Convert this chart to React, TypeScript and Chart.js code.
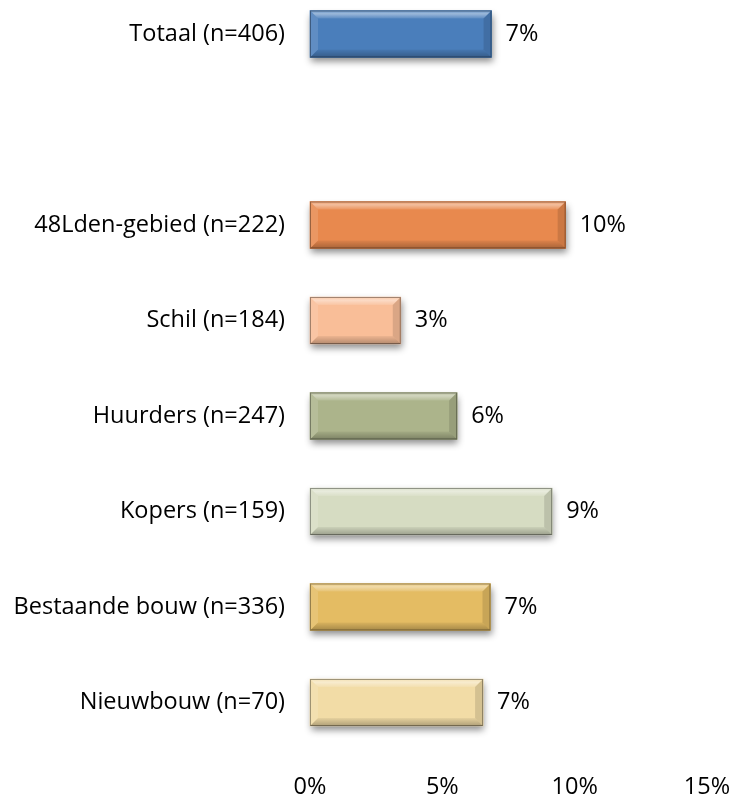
import React, { useEffect, useRef } from "react";
import { Chart, registerables } from "chart.js";

Chart.register(...registerables);

const categories = [
  "Totaal (n=406)",
  "",
  "48Lden-gebied (n=222)",
  "Schil (n=184)",
  "Huurders (n=247)",
  "Kopers (n=159)",
  "Bestaande bouw (n=336)",
  "Nieuwbouw (n=70)",
];
const values: (number | null)[] = [6.86, null, 9.66, 3.43, 5.56, 9.15, 6.82, 6.54];
const barColors = [
  "#4A7EBB",
  "#FFFFFF",
  "#E8894E",
  "#F9BE98",
  "#ACB48B",
  "#D6DCC2",
  "#E4BC63",
  "#F2DCA6",
];
const xTicks = [0, 5, 10, 15];

const FONT = "'Open Sans', sans-serif";
const FSIZE = 23.5;

const bevelPlugin = {
  id: "bevel",
  beforeDatasetsDraw(chart: any) {
    const ctx = chart.ctx;
    const meta = chart.getDatasetMeta(0);
    ctx.save();
    meta.data.forEach((el: any, i: number) => {
      if (values[i] == null) return;
      const p = el.getProps(["x", "y", "base", "height"], true);
      const l = Math.min(p.base, p.x);
      const r = Math.max(p.base, p.x);
      const t = p.y - p.height / 2;
      ctx.shadowColor = "rgba(0,0,0,0.45)";
      ctx.shadowBlur = 7;
      ctx.shadowOffsetX = 1;
      ctx.shadowOffsetY = 4;
      ctx.fillStyle = barColors[i];
      ctx.fillRect(l, t, r - l, p.height);
    });
    ctx.restore();
  },
  afterDatasetsDraw(chart: any) {
    const ctx = chart.ctx;
    const meta = chart.getDatasetMeta(0);
    ctx.save();
    meta.data.forEach((el: any, i: number) => {
      if (values[i] == null) return;
      const p = el.getProps(["x", "y", "base", "height"], true);
      const l = Math.min(p.base, p.x);
      const r = Math.max(p.base, p.x);
      const t = p.y - p.height / 2;
      const b = p.y + p.height / 2;
      const bv = 8;
      const poly = (pts: number[][], fill: any) => {
        ctx.beginPath();
        ctx.moveTo(pts[0][0], pts[0][1]);
        for (let k = 1; k < pts.length; k++) ctx.lineTo(pts[k][0], pts[k][1]);
        ctx.closePath();
        ctx.fillStyle = fill;
        ctx.fill();
      };
      const gTop = ctx.createLinearGradient(0, t, 0, t + bv);
      gTop.addColorStop(0, "rgba(255,255,255,0.15)");
      gTop.addColorStop(0.4, "rgba(255,255,255,0.45)");
      gTop.addColorStop(1, "rgba(255,255,255,0.1)");
      poly([[l, t], [r, t], [r - bv, t + bv], [l + bv, t + bv]], gTop);
      const gBot = ctx.createLinearGradient(0, b - bv, 0, b);
      gBot.addColorStop(0, "rgba(0,0,0,0.05)");
      gBot.addColorStop(1, "rgba(0,0,0,0.28)");
      poly([[l, b], [r, b], [r - bv, b - bv], [l + bv, b - bv]], gBot);
      poly([[l, t], [l + bv, t + bv], [l + bv, b - bv], [l, b]], "rgba(255,255,255,0.12)");
      poly([[r, t], [r - bv, t + bv], [r - bv, b - bv], [r, b]], "rgba(0,0,0,0.12)");
      ctx.strokeStyle = "rgba(0,0,0,0.35)";
      ctx.lineWidth = 1;
      ctx.strokeRect(l + 0.5, t + 0.5, r - l - 1, b - t - 1);
      // value label
      ctx.fillStyle = "#000";
      ctx.font = `${FSIZE}px ${FONT}`;
      ctx.textAlign = "left";
      ctx.textBaseline = "middle";
      ctx.fillText(Math.round(values[i] as number) + "%", r + 14, p.y);
    });
    ctx.restore();
  },
};

export default function App() {
  const ref = useRef<HTMLCanvasElement | null>(null);
  useEffect(() => {
    if (!ref.current) return;
    const chart = new Chart(ref.current, {
      type: "bar",
      data: {
        labels: categories,
        datasets: [
          {
            data: values as any,
            backgroundColor: barColors,
            borderWidth: 0,
            barThickness: 47,
            clip: false as any,
          },
        ],
      },
      options: {
        indexAxis: "y",
        animation: false,
        responsive: true,
        maintainAspectRatio: false,
        layout: { padding: { top: 34, right: 25, left: 0, bottom: 0 } },
        plugins: { legend: { display: false }, tooltip: { enabled: false } },
        scales: {
          y: {
            type: "category",
            offset: false,
            grid: { display: false, drawTicks: false },
            border: { display: false },
            ticks: {
              color: "#000",
              font: { family: FONT, size: FSIZE },
              padding: 25,
            },
            afterFit(scale: any) {
              scale.width = 310;
              scale.paddingTop = 0;
              scale.paddingBottom = 0;
            },
          },
          x: {
            type: "linear",
            min: 0,
            max: 15,
            grid: { display: false, drawTicks: false },
            border: { display: false },
            afterBuildTicks(scale: any) {
              scale.ticks = xTicks.map((v) => ({ value: v }));
            },
            ticks: {
              color: "#000",
              font: { family: FONT, size: FSIZE },
              padding: 71,
              maxRotation: 0,
              callback: (v: any) => v + "%",
            },
            afterFit(scale: any) {
              scale.height = 91.5;
              scale.paddingLeft = 0;
              scale.paddingRight = 0;
            },
          },
        },
      },
      plugins: [bevelPlugin],
    });
    return () => chart.destroy();
  }, []);
  return (
    <div style={{ position: "absolute", left: 0, top: 0, width: 732, height: 794 }}>
      <canvas ref={ref} />
    </div>
  );
}
